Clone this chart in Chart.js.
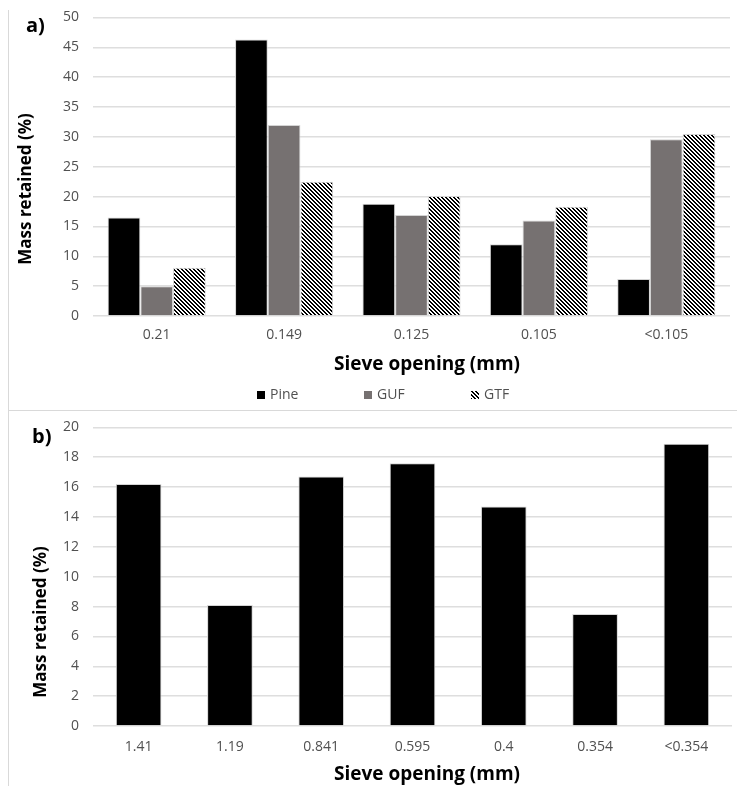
<!DOCTYPE html>
<html>
<head>
<meta charset="utf-8">
<script src="https://cdn.jsdelivr.net/npm/chart.js@4/dist/chart.umd.min.js"></script>
<style>
  html, body { margin: 0; padding: 0; background: #fff; }
  body { width: 737px; height: 786px; position: relative; overflow: hidden; }
  .panel { position: absolute; }
  #frameA { left: 8px; top: 10px; width: 729px; height: 400px; border-left: 1px solid #d9d9d9; border-bottom: 1px solid #d9d9d9; }
  #frameB { left: 8px; top: 410px; width: 729px; height: 376px; border-left: 1px solid #d9d9d9; border-top: 1px solid #d9d9d9; }
  #wrapA { left: 8px; top: 0; width: 729px; height: 411px; }
  #wrapB { left: 8px; top: 411px; width: 729px; height: 375px; }
</style>
</head>
<body>
<div class="panel" id="frameA"></div>
<div class="panel" id="frameB"></div>
<div class="panel" id="wrapA"><canvas id="chartA" width="729" height="411"></canvas></div>
<div class="panel" id="wrapB"><canvas id="chartB" width="729" height="375"></canvas></div>
<script>
// Fine sieve fractions (panel a)
const sieveA = ['0.21', '0.149', '0.125', '0.105', '<0.105'];
const pineA = [16.5, 46.3, 18.8, 12.0, 6.2];
const gufA = [5.0, 32.0, 16.9, 16.0, 29.6];
const gtfA = [8.1, 22.5, 20.1, 18.3, 30.5];
const ticksA = [0, 5, 10, 15, 20, 25, 30, 35, 40, 45, 50];

// Coarse sieve fractions (panel b)
const sieveB = ['1.41', '1.19', '0.841', '0.595', '0.4', '0.354', '<0.354'];
const pineB = [16.2, 8.1, 16.7, 17.6, 14.7, 7.5, 18.9];
const ticksB = [0, 2, 4, 6, 8, 10, 12, 14, 16, 18, 20];

const FONT = '"Open Sans", "DejaVu Sans", sans-serif';
const TICK_COLOR = '#505050';
const GRID_COLOR = '#dedede';

// Diagonal hatch used for the GTF series
function makeHatch() {
  const s = 4;
  const c = document.createElement('canvas');
  c.width = s; c.height = s;
  const g = c.getContext('2d');
  const img = g.createImageData(s, s);
  for (let y = 0; y < s; y++) {
    for (let x = 0; x < s; x++) {
      const on = (((x - y) % s) + s) % s < 2;
      const i = (y * s + x) * 4;
      const v = on ? 0 : 255;
      img.data[i] = v; img.data[i + 1] = v; img.data[i + 2] = v; img.data[i + 3] = 255;
    }
  }
  g.putImageData(img, 0, 0);
  return g.createPattern(c, 'repeat');
}
const hatch = makeHatch();

// Draws the panel letter, axis titles and a spaced-out legend
const annotations = {
  id: 'annotations',
  afterDraw(chart, args, opts) {
    const ctx = chart.ctx;
    ctx.save();
    ctx.fillStyle = '#000';
    ctx.textAlign = 'left';
    ctx.textBaseline = 'middle';
    ctx.font = 'bold 20px ' + FONT;
    ctx.fillText(opts.panel.text, opts.panel.x, opts.panel.y);

    ctx.font = 'bold 17px ' + FONT;
    ctx.save();
    ctx.translate(opts.yTitle.x, opts.yTitle.y);
    ctx.rotate(-Math.PI / 2);
    ctx.textAlign = 'center';
    ctx.fillText(opts.yTitle.text, 0, 0);
    ctx.restore();

    ctx.font = 'bold 19px ' + FONT;
    ctx.textAlign = 'center';
    ctx.fillText(opts.xTitle.text, opts.xTitle.x, opts.xTitle.y);

    if (opts.legend) {
      ctx.font = '14px ' + FONT;
      ctx.textAlign = 'left';
      chart.data.datasets.forEach((ds, i) => {
        const x0 = opts.legend.x + i * opts.legend.step;
        const y0 = opts.legend.y;
        ctx.fillStyle = ds.backgroundColor;
        ctx.fillRect(x0, y0 - 4, 8, 8);
        ctx.fillStyle = TICK_COLOR;
        ctx.fillText(ds.label, x0 + 13, y0);
      });
    }
    ctx.restore();
  }
};

function yScale(ticks) {
  return {
    min: ticks[0],
    max: ticks[ticks.length - 1],
    afterBuildTicks(scale) { scale.ticks = ticks.map(v => ({ value: v })); },
    afterFit(scale) {
      scale.width = 85;
      scale.paddingTop = 0;
      scale.paddingBottom = 0;
    },
    grid: { color: GRID_COLOR, lineWidth: 1.5, drawTicks: false },
    border: { display: false },
    ticks: { color: TICK_COLOR, font: { family: FONT, size: 14 }, padding: 14 }
  };
}

function xScale(height, pad) {
  return {
    afterFit(scale) { scale.height = height; },
    grid: { display: false, drawTicks: false },
    border: { display: false },
    ticks: { color: TICK_COLOR, font: { family: FONT, size: 14 }, padding: pad, maxRotation: 0, autoSkip: false }
  };
}

const barBorder = { borderColor: '#d4d4d4', borderWidth: 1 };

new Chart(document.getElementById('chartA'), {
  type: 'bar',
  data: {
    labels: sieveA,
    datasets: [
      Object.assign({ label: 'Pine', data: pineA, backgroundColor: '#000000' }, barBorder),
      Object.assign({ label: 'GUF', data: gufA, backgroundColor: '#767171' }, barBorder),
      Object.assign({ label: 'GTF', data: gtfA, backgroundColor: hatch }, barBorder)
    ]
  },
  options: {
    responsive: false,
    animation: false,
    layout: { padding: { top: 17.5, right: 7, left: 0, bottom: 0 } },
    datasets: { bar: { categoryPercentage: 0.77, barPercentage: 1.0 } },
    scales: { x: xScale(95, 11), y: yScale(ticksA) },
    plugins: {
      legend: { display: false },
      tooltip: { enabled: false },
      annotations: {
        panel: { text: 'a)', x: 18, y: 26 },
        yTitle: { text: 'Mass retained (%)', x: 18, y: 189 },
        xTitle: { text: 'Sieve opening (mm)', x: 419, y: 365 },
        legend: { x: 249, y: 395, step: 107 }
      }
    }
  },
  plugins: [annotations]
});

new Chart(document.getElementById('chartB'), {
  type: 'bar',
  data: {
    labels: sieveB,
    datasets: [
      Object.assign({ label: 'Pine', data: pineB, backgroundColor: '#000000' }, barBorder)
    ]
  },
  options: {
    responsive: false,
    animation: false,
    layout: { padding: { top: 16.3, right: 5, left: 0, bottom: 0 } },
    datasets: { bar: { categoryPercentage: 1.0, barPercentage: 0.5 } },
    scales: { x: xScale(60, 13), y: yScale(ticksB) },
    plugins: {
      legend: { display: false },
      tooltip: { enabled: false },
      annotations: {
        panel: { text: 'b)', x: 24, y: 26 },
        yTitle: { text: 'Mass retained (%)', x: 33, y: 211 },
        xTitle: { text: 'Sieve opening (mm)', x: 419, y: 364 },
        legend: null
      }
    }
  },
  plugins: [annotations]
});
</script>
</body>
</html>
